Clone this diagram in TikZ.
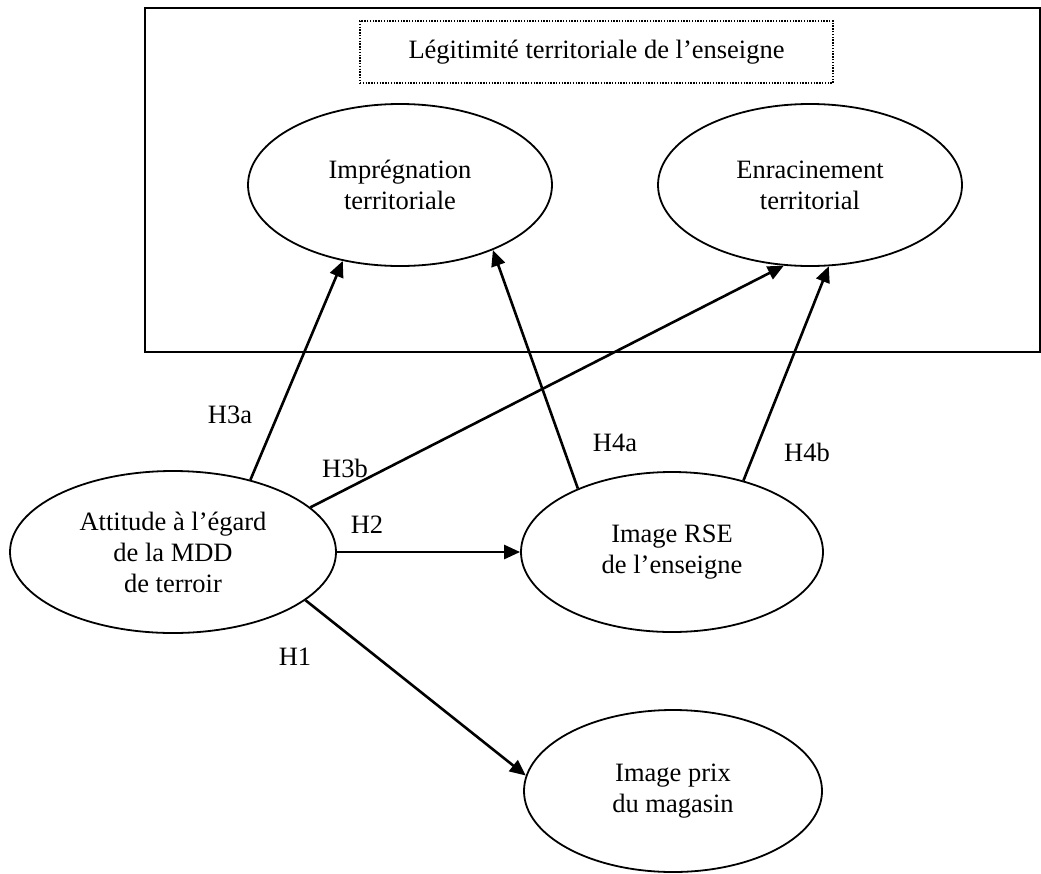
\documentclass[tikz,border=0pt]{standalone}
\usepackage{fontspec}
\setmainfont{Liberation Serif}
\usetikzlibrary{shapes.geometric,arrows.meta}
\begin{document}
\begin{tikzpicture}[x=1pt,y=-1pt,
  construct/.style={draw, ellipse, line width=1.8pt, inner sep=0pt, align=center,
    font=\fontsize{26.5}{31}\selectfont},
  arr/.style={line width=2.6pt, -{Triangle[length=16pt,width=14pt]}},
  hyp/.style={font=\fontsize{26.5}{31}\selectfont, inner sep=0pt},
  frame/.style={line width=1.8pt},
  dotbox/.style={draw, line width=1.8pt, dash pattern=on 1.4pt off 1.4pt,
    minimum width=473pt, minimum height=62pt, inner sep=0pt,
    font=\fontsize{26.5}{31}\selectfont}]
\useasboundingbox (0,0) rectangle (1041,873);
\draw[frame] (145,8) rectangle (1040,352);
\node[dotbox] (leg) at (596.5,52) {Légitimité territoriale de l’enseigne};
\node[construct, minimum width=304pt, minimum height=162pt] (impr) at (400,185) {Imprégnation\\territoriale};
\node[construct, minimum width=304pt, minimum height=162pt] (enrac) at (810,185) {Enracinement\\territorial};
\node[construct, minimum width=326pt, minimum height=162pt] (att) at (173,552) {Attitude à l’égard\\de la MDD\\de terroir};
\node[construct, minimum width=302pt, minimum height=160pt] (rse) at (672,552) {Image RSE\\de l’enseigne};
\node[construct, minimum width=298pt, minimum height=162pt] (prix) at (673,791) {Image prix\\du magasin};
\draw[arr] (att.43.8) -- (impr.-127.3);
\draw[arr] (rse.146.2) -- (impr.-35.8);
\draw[arr] (att.18.8) -- (enrac.-108.2);
\draw[arr] (rse.45) -- (enrac.-77.6);
\draw[arr] (att.east) -- (rse.west);
\draw[arr] (att.-20.4) -- (prix.174.6);
\node[hyp] (h3a) at (230,415) {H3a};
\node[hyp] (h3b) at (345,468) {H3b};
\node[hyp] (h4a) at (615,443) {H4a};
\node[hyp] (h4b) at (807,452) {H4b};
\node[hyp] (h2) at (367,525) {H2};
\node[hyp] (h1) at (295,657) {H1};
\end{tikzpicture}
\end{document}
